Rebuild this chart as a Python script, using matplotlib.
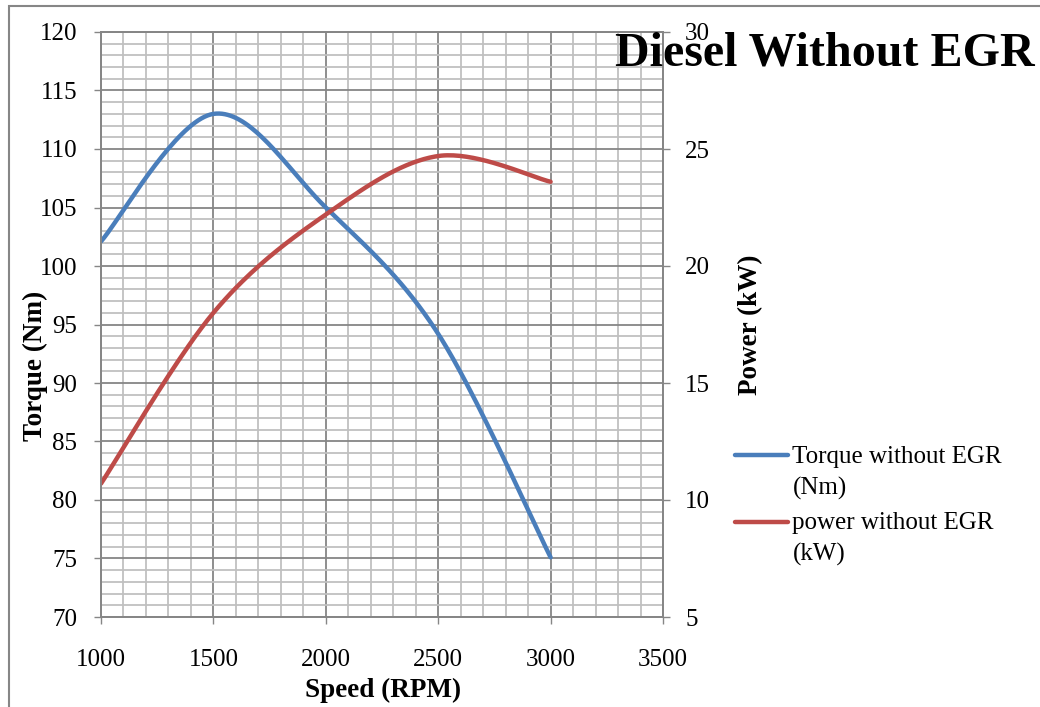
import numpy as np
import matplotlib
matplotlib.use('Agg')
import matplotlib.pyplot as plt
from matplotlib.legend_handler import HandlerLine2D
from matplotlib.patches import Rectangle

# data
speed = [1000, 1500, 2000, 2500, 3000]
torque = [102.1, 113.0, 105.0, 94.2, 75.1]
power = [10.7, 18.0, 22.2, 24.7, 23.6]

BLUE = '#4A7EBB'
RED = '#BE4B48'
GRID_MAJ = '#868686'
GRID_MIN = '#C0C0C0'

plt.rcParams['font.family'] = ['Liberation Serif', 'DejaVu Serif']


def smooth(x, y, n=40):
    # Excel style smoothed line: cubic bezier with catmull-rom control points
    p = np.column_stack([x, y]).astype(float)
    pts = []
    for i in range(len(p) - 1):
        p0 = p[i - 1] if i > 0 else p[i]
        p1 = p[i]
        p2 = p[i + 1]
        p3 = p[i + 2] if i + 2 < len(p) else p[i + 1]
        c1 = p1 + (p2 - p0) / 6
        c2 = p2 - (p3 - p1) / 6
        t = np.linspace(0, 1, n)[:, None]
        seg = ((1 - t) ** 3 * p1 + 3 * (1 - t) ** 2 * t * c1
               + 3 * (1 - t) * t ** 2 * c2 + t ** 3 * p2)
        pts.append(seg if i == 0 else seg[1:])
    pts = np.vstack(pts)
    return pts[:, 0], pts[:, 1]


class FirstLineHandler(HandlerLine2D):
    # put the legend line next to the first text line
    def __init__(self, shift, **kw):
        super().__init__(**kw)
        self.shift = shift

    def create_artists(self, legend, orig_handle, xdescent, ydescent,
                       width, height, fontsize, trans):
        arts = super().create_artists(legend, orig_handle, xdescent, ydescent,
                                      width, height, fontsize, trans)
        for a in arts:
            a.set_ydata(np.asarray(a.get_ydata()) + self.shift)
        return arts


fig = plt.figure(figsize=(10.4, 7.07), dpi=100)
ax = fig.add_axes([101 / 1040, 1 - 617 / 707, 562 / 1040, 585 / 707])
ax2 = ax.twinx()

xs, ys = smooth(speed, torque)
l1, = ax.plot(xs, ys, color=BLUE, lw=3.2, solid_capstyle='round')
xs, ys = smooth(speed, power)
l2, = ax2.plot(xs, ys, color=RED, lw=3.2, solid_capstyle='round')

ax.set_xlim(1000, 3500)
ax.set_ylim(70, 120)
ax2.set_ylim(5, 30)
ax.set_xticks(np.arange(1000, 3501, 500))
ax.set_xticks(np.arange(1000, 3501, 100), minor=True)
ax.set_yticks(np.arange(70, 121, 5))
ax.set_yticks(np.arange(70, 121, 1), minor=True)
ax2.set_yticks(np.arange(5, 31, 5))

ax.grid(which='minor', color=GRID_MIN, lw=1.3)
ax.grid(which='major', color=GRID_MAJ, lw=1.3)
ax.set_axisbelow(True)

ax.tick_params(which='major', direction='out', length=5, width=1, color=GRID_MAJ, labelsize=18)
ax.tick_params(axis='x', pad=18)
ax.tick_params(axis='y', pad=12)
ax.tick_params(which='minor', length=0)
ax2.tick_params(direction='out', length=5, width=1, color=GRID_MAJ, labelsize=18, pad=11)
for a in (ax, ax2):
    for s in a.spines.values():
        s.set_color(GRID_MAJ)
        s.set_linewidth(1.3)

fig.text(383 / 1040, 1 - 690 / 707, 'Speed (RPM)', ha='center', va='center',
         fontsize=19.5, fontweight='bold')
fig.text(35 / 1040, 1 - 366 / 707, 'Torque (Nm)', ha='center', va='center',
         rotation=90, fontsize=19.5, fontweight='bold')
fig.text(751 / 1040, 1 - 325 / 707, 'Power (kW)', ha='center', va='center',
         rotation=90, fontsize=19.5, fontweight='bold')
fig.text(825 / 1040, 1 - 54 / 707, 'Diesel Without EGR', ha='center', va='center',
         fontsize=34.6, fontweight='bold')

leg = fig.legend([l1, l2], ['Torque without EGR\n(Nm)', 'power without EGR\n(kW)'],
                 loc='upper left', bbox_to_anchor=(735 / 1040, 1 - 446 / 707),
                 frameon=False, fontsize=18, handlelength=2.1, handletextpad=0.2,
                 labelspacing=0.5, borderpad=0, borderaxespad=0,
                 handler_map={l1: FirstLineHandler(12.5), l2: FirstLineHandler(12.5)})
for t in leg.get_texts():
    t.set_linespacing(1.5)

fig.patches.append(Rectangle((9 / 1040, -0.1), 1.2, 1.1 - 6 / 707,
                             transform=fig.transFigure, fill=False,
                             edgecolor=GRID_MAJ, lw=1.5, clip_on=False))

fig.savefig('out.png', dpi=100)
